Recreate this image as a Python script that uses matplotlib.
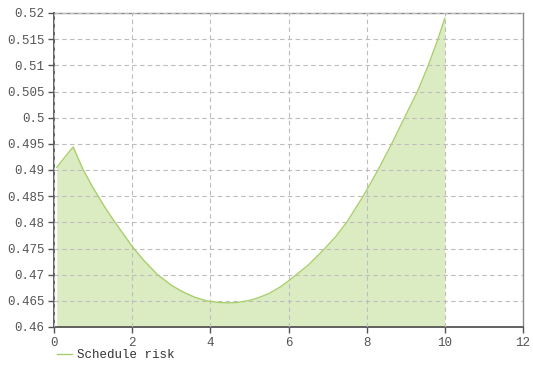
import matplotlib
matplotlib.use("Agg")
import matplotlib.pyplot as plt
from matplotlib.ticker import FuncFormatter

x_vals = [0.07, 0.25, 0.49, 0.75, 1.0, 1.13, 1.3, 1.56, 1.8, 2.0, 2.3, 2.65, 3.0, 3.3, 3.6, 3.9,
          4.2, 4.45, 4.7, 4.95, 5.2, 5.5, 5.8, 6.0, 6.2, 6.5, 6.93, 7.2, 7.49, 7.7, 7.91, 8.1,
          8.29, 8.64, 9.0, 9.3, 9.55, 9.8, 10.0]
risk_vals = [0.4905, 0.4922, 0.4944, 0.4900, 0.4866, 0.4850, 0.4829, 0.4800, 0.4775, 0.4754,
             0.4727, 0.4700, 0.4680, 0.4667, 0.4657, 0.4650, 0.4647, 0.4646, 0.4647, 0.4650,
             0.4655, 0.4664, 0.4677, 0.4688, 0.4700, 0.4718, 0.4750, 0.4772, 0.4800, 0.4825,
             0.4850, 0.4875, 0.4900, 0.4950, 0.5005, 0.5050, 0.5095, 0.5145, 0.5190]
series_label = "Schedule risk"
x_ticks = [0, 2, 4, 6, 8, 10, 12]
y_ticks = [0.46, 0.465, 0.47, 0.475, 0.48, 0.485, 0.49, 0.495, 0.5, 0.505, 0.51, 0.515, 0.52]

line_color = "#a9cf6b"
fill_color = "#dcecc2"

fig = plt.figure(figsize=(5.33, 3.72), dpi=100)
ax = fig.add_axes([54/533, 1-327/372, (523-54)/533, (327-13)/372])

ax.fill_between(x_vals, risk_vals, 0.46, color=fill_color, linewidth=0, zorder=1)
ax.plot(x_vals, risk_vals, color=line_color, linewidth=1.0, label=series_label, zorder=3)

ax.set_xlim(0, 12)
ax.set_ylim(0.46, 0.52)
ax.set_xticks(x_ticks)
ax.set_yticks(y_ticks)
ax.yaxis.set_major_formatter(FuncFormatter(lambda v, p: ("%.3f" % v).rstrip("0").rstrip(".")))

ax.grid(True, linestyle=(0, (4, 3)), color="#bdbdbd", linewidth=0.8, zorder=2)
ax.set_axisbelow(False)

for s in ["left", "bottom"]:
    ax.spines[s].set_color("#555555")
    ax.spines[s].set_linewidth(1.3)
for s in ["top", "right"]:
    ax.spines[s].set_color("#8a8a8a")
    ax.spines[s].set_linewidth(1.0)

ax.tick_params(axis="both", direction="out", length=4, width=1, color="#555555",
               labelsize=9, labelcolor="#555555", pad=3)
for lab in ax.get_xticklabels() + ax.get_yticklabels():
    lab.set_family("Liberation Mono")

leg = fig.legend(loc="center left", bbox_to_anchor=(52/533, 1-355/372), frameon=False,
                 handlelength=1.2, handletextpad=0.4, borderaxespad=0,
                 prop={"family": "Liberation Mono", "size": 9})
for t in leg.get_texts():
    t.set_color("#333333")

fig.savefig("out.png", dpi=100)
